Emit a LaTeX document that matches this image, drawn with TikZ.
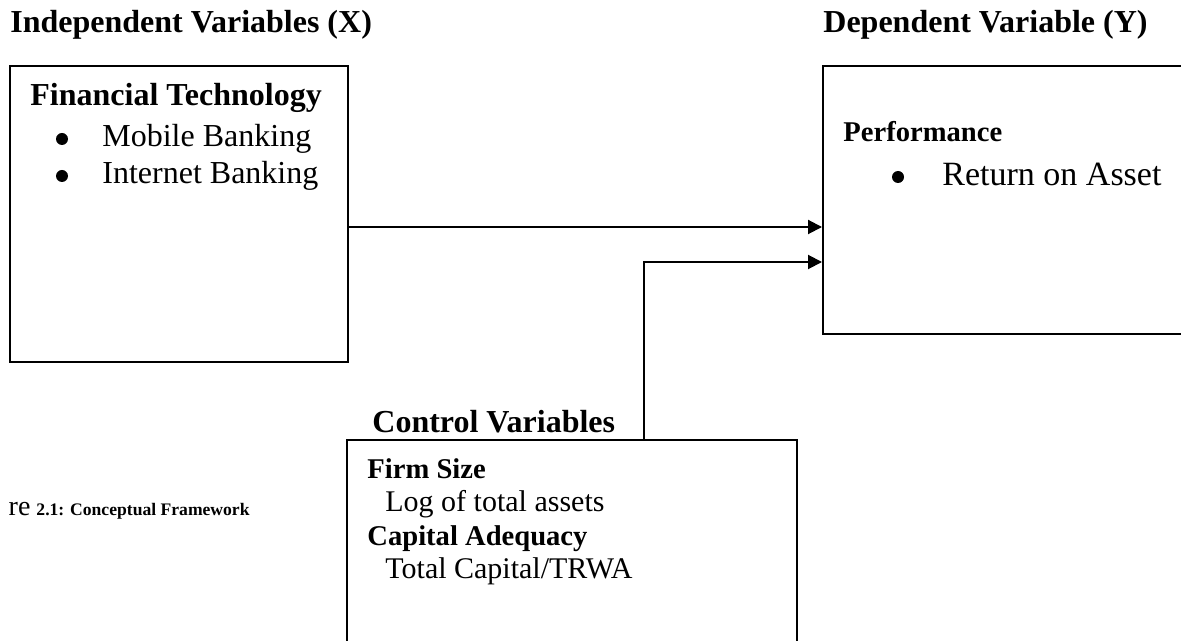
\documentclass[tikz,border=0pt]{standalone}
\usepackage{fontspec}
\setmainfont{Liberation Serif}
\usetikzlibrary{arrows.meta,positioning}

\begin{document}
\begin{tikzpicture}[
  x=0.5pt, y=-0.5pt,
  box/.style={rectangle, draw, line width=1pt, inner sep=0pt},
  head/.style={anchor=base west, inner sep=0pt, font=\bfseries\fontsize{16}{19}\selectfont},
  sub/.style={anchor=base west, inner sep=0pt, font=\bfseries\fontsize{14.3}{17}\selectfont},
  item/.style={anchor=base west, inner sep=0pt, font=\fontsize{16}{19}\selectfont},
  dot/.style={circle, fill, inner sep=0pt, minimum size=6pt},
  link/.style={line width=1pt, -{Triangle[length=7pt,width=7pt]}}
]
  \useasboundingbox (0,0) rectangle (1181,641);

  % Group headings
  \node[head] (indep) at (10,33) {Independent Variables (X)};
  \node[head] (dep) at (823,33) {Dependent Variable (Y)};

  % Boxes
  \node[box, minimum width=169pt, minimum height=148pt] (fintech) at (179,214) {};
  \node[box, minimum width=180pt, minimum height=134pt] (perf) at (1003,200) {};
  \node[box, minimum width=225pt, minimum height=102.5pt] (ctrl) at (572,542.5) {};

  % Financial technology
  \node[head] (ftitle) at (30,106) {Financial Technology};
  \node[dot] (fdot1) at (62,139) {};
  \node[item] (fmob) at (102,147) {Mobile Banking};
  \node[dot] (fdot2) at (62,176) {};
  \node[item] (fnet) at (102,184) {Internet Banking};

  % Performance
  \node[sub] (ptitle) at (843,142) {Performance};
  \node[dot] (pdot) at (898,177) {};
  \node[item, font=\fontsize{17}{20}\selectfont] (proa) at (942,186) {Return on Asset};

  % Control variables
  \node[head] (ctitle) at (372,432) {Control Variables};
  \node[sub] (csize) at (367,478) {Firm Size};
  \node[item, font=\fontsize{15}{18}\selectfont] (clog) at (385,511) {Log of total assets};
  \node[sub] (ccap) at (367,545) {Capital Adequacy};
  \node[item, font=\fontsize{15}{18}\selectfont] (ctrwa) at (385,578) {Total Capital/TRWA};

  % Caption
  \node[anchor=base east, inner sep=0pt, font=\fontsize{8.8}{10}\selectfont] (capt) at (250,515)
    {{\fontsize{14}{16}\selectfont re}\hspace{3pt}\textbf{2.1: Conceptual Framework}};

  % Links
  \coordinate (a1) at (348,227);
  \coordinate (a2) at (644,262);
  \draw[link] (a1) -- (a1 -| perf.west);
  \draw[link] (a2 |- ctrl.north) -- (a2) -- (a2 -| perf.west);
\end{tikzpicture}
\end{document}
